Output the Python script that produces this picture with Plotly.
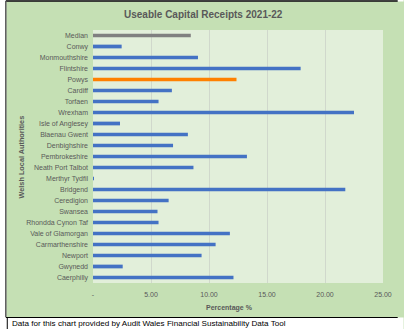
import plotly.graph_objects as go

categories = ["Median", "Conwy", "Monmouthshire", "Flintshire", "Powys", "Cardiff", "Torfaen",
              "Wrexham", "Isle of Anglesey", "Blaenau Gwent", "Denbighshire", "Pembrokeshire",
              "Neath Port Talbot", "Merthyr Tydfil", "Bridgend", "Ceredigion", "Swansea",
              "Rhondda Cynon Taf", "Vale of Glamorgan", "Carmarthenshire", "Newport", "Gwynedd",
              "Caerphilly"]
values = [8.43, 2.47, 9.05, 17.9, 12.37, 6.8, 5.65, 22.5, 2.33, 8.18, 6.9, 13.27, 8.66, 0.05,
          21.75, 6.52, 5.56, 5.65, 11.8, 10.57, 9.36, 2.56, 12.11]
tick_vals = [0, 5, 10, 15, 20, 25]
tick_text = ["-", "5.00", "10.00", "15.00", "20.00", "25.00"]

colors = []
for c in categories:
    if c == "Median":
        colors.append("#808080")
    elif c == "Powys":
        colors.append("#FF8000")
    else:
        colors.append("#4472C4")

W, H = 404, 329
L, R, T, B = 93, 15, 30, 46
pw, ph = W - L - R, H - T - B

def px(x):
    return (x - L) / pw

def py(y):
    return (H - B - y) / ph

fig = go.Figure(go.Bar(x=values, y=categories, orientation="h", marker_color=colors,
                       marker_line_width=0, width=0.34))

font = "Liberation Sans, Arial, sans-serif"
fig.update_layout(
    width=W, height=H,
    margin=dict(l=L, r=R, t=T, b=B),
    paper_bgcolor="#C5E0B4",
    plot_bgcolor="#E2EFDA",
    showlegend=False,
    font=dict(family=font, size=7, color="#595959"),
    xaxis=dict(range=[0, 25], tickvals=tick_vals, ticktext=tick_text, showgrid=True,
               gridcolor="#D0D8CC", gridwidth=1, zeroline=False, showline=False,
               ticks="", tickfont=dict(size=7, color="#595959"), ticklabelstandoff=6,
               fixedrange=True),
    yaxis=dict(autorange="reversed", showgrid=False, zeroline=False, ticks="",
               tickfont=dict(size=7, color="#595959"), ticklabelstandoff=4),
    shapes=[
        dict(type="rect", xref="paper", yref="paper", x0=px(-5), x1=px(410), y0=py(317.5), y1=py(335),
             fillcolor="white", line_width=0, layer="above"),
        dict(type="rect", xref="paper", yref="paper", x0=px(-5), x1=px(4.5), y0=py(335), y1=py(-5),
             fillcolor="white", line_width=0, layer="above"),
        dict(type="rect", xref="paper", yref="paper", x0=px(-5), x1=px(410), y0=py(1.5), y1=py(-5),
             fillcolor="white", line_width=0, layer="above"),
        dict(type="line", xref="paper", yref="paper", x0=px(4), x1=px(404), y0=py(1), y1=py(1),
             line=dict(color="black", width=1.5), layer="above"),
        dict(type="line", xref="paper", yref="paper", x0=px(4), x1=px(4), y0=py(1), y1=py(317),
             line=dict(color="#595959", width=1.5), layer="above"),
        dict(type="line", xref="paper", yref="paper", x0=px(4), x1=px(404), y0=py(317.5), y1=py(317.5),
             line=dict(color="black", width=1), layer="above"),
        dict(type="line", xref="paper", yref="paper", x0=px(5.5), x1=px(5.5), y0=py(318), y1=py(329),
             line=dict(color="black", width=1), layer="above"),
    ],
    annotations=[
        dict(text="<b>Useable Capital Receipts 2021-22</b>", xref="paper", yref="paper",
             x=px(206), y=py(15), showarrow=False, font=dict(size=10, color="#595959"),
             xanchor="center", yanchor="middle"),
        dict(text="<b>Percentage %</b>", xref="paper", yref="paper",
             x=px(232), y=py(308), showarrow=False, font=dict(size=7, color="#595959"),
             xanchor="center", yanchor="middle"),
        dict(text="<b>Welsh Local Authorities</b>", xref="paper", yref="paper",
             x=px(20), y=py(157), showarrow=False, font=dict(size=7.3, color="#595959"),
             textangle=-90, xanchor="center", yanchor="middle"),
        dict(text="Data for this chart provided by Audit Wales Financial Sustainability Data Tool",
             xref="paper", yref="paper", x=px(8.5), y=py(323.5), showarrow=False,
             font=dict(size=8.1, color="black"), xanchor="left", yanchor="middle"),
    ],
)

fig.write_html("out.html")
